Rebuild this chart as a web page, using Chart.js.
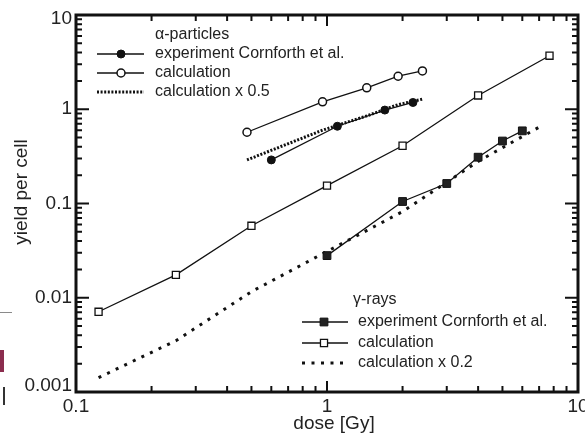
<!DOCTYPE html>
<html>
<head>
<meta charset="utf-8">
<script src="https://cdn.jsdelivr.net/npm/chart.js@4/dist/chart.umd.min.js"></script>
<style>
html, body { margin: 0; padding: 0; background: #fff; }
#wrap { position: relative; width: 585px; height: 436px; }
.mark { position: absolute; }
</style>
</head>
<body>
<div id="wrap">
    <canvas id="chart-yield" width="585" height="436"></canvas>
    <div class="mark" style="left:0;top:312px;width:12px;height:1px;background:#8a8a8a"></div>
    <div class="mark" style="left:0;top:350px;width:4px;height:22px;background:#8b2d4e"></div>
    <div class="mark" style="left:3px;top:387px;width:2px;height:18px;background:#333"></div>
</div>
<script>
// alpha-particles
const alphaExpDose   = [0.6, 1.1, 1.7, 2.2];
const alphaExpYield  = [0.29, 0.66, 0.98, 1.18];
const alphaCalcDose  = [0.48, 0.96, 1.44, 1.92, 2.4];
const alphaCalcYield = [0.57, 1.2, 1.69, 2.24, 2.55];
const alphaHalfYield = [0.29, 0.6, 0.85, 1.12, 1.28];

// gamma-rays
const gammaExpDose    = [1, 2, 3, 4, 5, 6];
const gammaExpYield   = [0.028, 0.105, 0.163, 0.31, 0.46, 0.59];
const gammaCalcDose   = [0.123, 0.25, 0.5, 1, 2, 4, 7.7];
const gammaCalcYield  = [0.0071, 0.0175, 0.058, 0.155, 0.41, 1.4, 3.7];
const gammaFifthDose  = [0.123, 0.25, 0.5, 1, 2, 4, 7.1];
const gammaFifthYield = [0.00142, 0.0035, 0.0116, 0.031, 0.082, 0.28, 0.66];

const xTicks = [0.1, 1, 10];
const xTickLabels = ['0.1', '1', '10'];
const yTicks = [0.001, 0.01, 0.1, 1, 10];
const yTickLabels = ['0.001', '0.01', '0.1', '1', '10'];

const INK  = '#111';
const TEXT = '#222';
const FONT = 'Arial, "Liberation Sans", sans-serif';

function puntos(xs, ys) {
    return xs.map((x, i) => ({ x: x, y: ys[i] }));
}

const dsAlphaExp = {
    label: 'experiment Cornforth et al.', data: puntos(alphaExpDose, alphaExpYield),
    borderColor: INK, borderWidth: 1.3, pointStyle: 'circle', pointRadius: 4,
    pointBackgroundColor: INK, pointBorderColor: INK, pointBorderWidth: 1
};
const dsAlphaCalc = {
    label: 'calculation', data: puntos(alphaCalcDose, alphaCalcYield),
    borderColor: INK, borderWidth: 1.3, pointStyle: 'circle', pointRadius: 4,
    pointBackgroundColor: '#fff', pointBorderColor: INK, pointBorderWidth: 1.5
};
const dsAlphaHalf = {
    label: 'calculation x 0.5', data: puntos(alphaCalcDose, alphaHalfYield),
    borderColor: INK, borderWidth: 3, borderDash: [2, 1.6], pointRadius: 0
};
const dsGammaExp = {
    label: 'experiment Cornforth et al.', data: puntos(gammaExpDose, gammaExpYield),
    borderColor: INK, borderWidth: 1.3, pointStyle: 'rect', pointRadius: 5.5,
    pointBackgroundColor: '#222', pointBorderColor: INK, pointBorderWidth: 1
};
const dsGammaCalc = {
    label: 'calculation', data: puntos(gammaCalcDose, gammaCalcYield),
    borderColor: INK, borderWidth: 1.3, pointStyle: 'rect', pointRadius: 5,
    pointBackgroundColor: '#fff', pointBorderColor: INK, pointBorderWidth: 1.3
};
const dsGammaFifth = {
    label: 'calculation x 0.2', data: puntos(gammaFifthDose, gammaFifthYield),
    borderColor: INK, borderWidth: 3, borderDash: [3, 6.5], pointRadius: 0
};

// leyendas dibujadas dentro del area
const leyendas = [
    { titulo: '\u03b1-particles', tx: 155, ty: 35, x0: 97, x1: 144, mx: 121, textX: 155,
      filas: [[dsAlphaExp, 54], [dsAlphaCalc, 73], [dsAlphaHalf, 92]] },
    { titulo: '\u03b3-rays', tx: 353, ty: 300, x0: 302, x1: 348, mx: 324, textX: 358,
      filas: [[dsGammaExp, 322], [dsGammaCalc, 343], [dsGammaFifth, 363]] }
];

// area de trazado en pixeles (medida en la referencia)
const AREA = { left: 76, top: 15, right: 578, bottom: 392 };

function dibujarMarca(ctx, ds, x, y) {
    if (!ds.pointRadius) return;
    ctx.save();
    ctx.fillStyle = ds.pointBackgroundColor;
    ctx.strokeStyle = ds.pointBorderColor;
    ctx.lineWidth = ds.pointBorderWidth;
    ctx.beginPath();
    if (ds.pointStyle === 'rect') {
        const s = Math.SQRT1_2 * ds.pointRadius;
        ctx.rect(x - s, y - s, 2 * s, 2 * s);
    } else {
        ctx.arc(x, y, ds.pointRadius, 0, Math.PI * 2);
    }
    ctx.fill();
    ctx.stroke();
    ctx.restore();
}

const marcoPlugin = {
    id: 'marco',
    afterDraw(chart) {
        const ctx = chart.ctx;
        const a = chart.chartArea;
        const sx = chart.scales.x, sy = chart.scales.y;
        ctx.save();

        // ticks hacia adentro (mayores y menores)
        ctx.strokeStyle = INK;
        ctx.lineWidth = 2;
        ctx.beginPath();
        xTicks.forEach(d => {
            for (let k = 1; k <= 9; k++) {
                const v = d * k;
                if (v > sx.max + 1e-9) break;
                const px = sx.getPixelForValue(v);
                const len = k === 1 ? 11 : 6;
                ctx.moveTo(px, a.bottom); ctx.lineTo(px, a.bottom - len);
                ctx.moveTo(px, a.top);    ctx.lineTo(px, a.top + len);
            }
        });
        yTicks.forEach(d => {
            for (let k = 1; k <= 9; k++) {
                const v = d * k;
                if (v > sy.max + 1e-9) break;
                const py = sy.getPixelForValue(v);
                const len = k === 1 ? 13 : 6;
                ctx.moveTo(a.left, py);  ctx.lineTo(a.left + len, py);
                ctx.moveTo(a.right, py); ctx.lineTo(a.right - len, py);
            }
        });
        ctx.stroke();

        ctx.lineWidth = 3;
        ctx.strokeRect(a.left, a.top, a.right - a.left, a.bottom - a.top);

        // etiquetas de ejes
        ctx.fillStyle = TEXT;
        ctx.font = '19px ' + FONT;
        ctx.textAlign = 'right';
        ctx.textBaseline = 'middle';
        yTicks.forEach((v, i) => {
            let py = sy.getPixelForValue(v);
            py = Math.min(Math.max(py, a.top + 4), a.bottom - 6);
            ctx.fillText(yTickLabels[i], a.left - 4, py);
        });
        ctx.textAlign = 'center';
        xTicks.forEach((v, i) => {
            ctx.fillText(xTickLabels[i], sx.getPixelForValue(v), 407);
        });

        // titulos de ejes
        ctx.fillText('dose [Gy]', 334, 424);
        ctx.save();
        ctx.translate(22, 192);
        ctx.rotate(-Math.PI / 2);
        ctx.fillText('yield per cell', 0, 0);
        ctx.restore();

        // leyendas
        ctx.font = '16px ' + FONT;
        ctx.textAlign = 'left';
        leyendas.forEach(L => {
            ctx.fillStyle = TEXT;
            ctx.fillText(L.titulo, L.tx, L.ty);
            L.filas.forEach(([ds, y]) => {
                ctx.save();
                ctx.strokeStyle = ds.borderColor;
                ctx.lineWidth = ds.borderWidth;
                ctx.setLineDash(ds.borderDash || []);
                ctx.beginPath();
                ctx.moveTo(L.x0, y); ctx.lineTo(L.x1, y);
                ctx.stroke();
                ctx.restore();
                dibujarMarca(ctx, ds, L.mx, y);
                ctx.fillStyle = TEXT;
                ctx.fillText(ds.label, L.textX, y);
            });
        });
        ctx.restore();
    }
};

new Chart(document.getElementById('chart-yield').getContext('2d'), {
    type: 'line',
    data: {
        datasets: [dsAlphaExp, dsAlphaCalc, dsGammaExp, dsGammaCalc, dsAlphaHalf, dsGammaFifth]
    },
    options: {
        responsive: false,
        animation: false,
        devicePixelRatio: 1,
        layout: { autoPadding: false, padding: { top: AREA.top, right: 585 - AREA.right, left: 0, bottom: 0 } },
        elements: { line: { tension: 0, fill: false } },
        plugins: { legend: { display: false }, tooltip: { enabled: false } },
        scales: {
            x: {
                type: 'logarithmic', min: 0.1, max: 10,
                afterFit: s => { s.height = 436 - AREA.bottom; },
                afterBuildTicks: s => { s.ticks = xTicks.map(v => ({ value: v })); },
                grid: { display: false, drawTicks: false },
                border: { display: false },
                ticks: { display: false }
            },
            y: {
                type: 'logarithmic', min: 0.001, max: 10,
                afterFit: s => { s.width = AREA.left; },
                afterBuildTicks: s => { s.ticks = yTicks.map(v => ({ value: v })); },
                grid: { display: false, drawTicks: false },
                border: { display: false },
                ticks: { display: false }
            }
        }
    },
    plugins: [marcoPlugin]
});
</script>
</body>
</html>
